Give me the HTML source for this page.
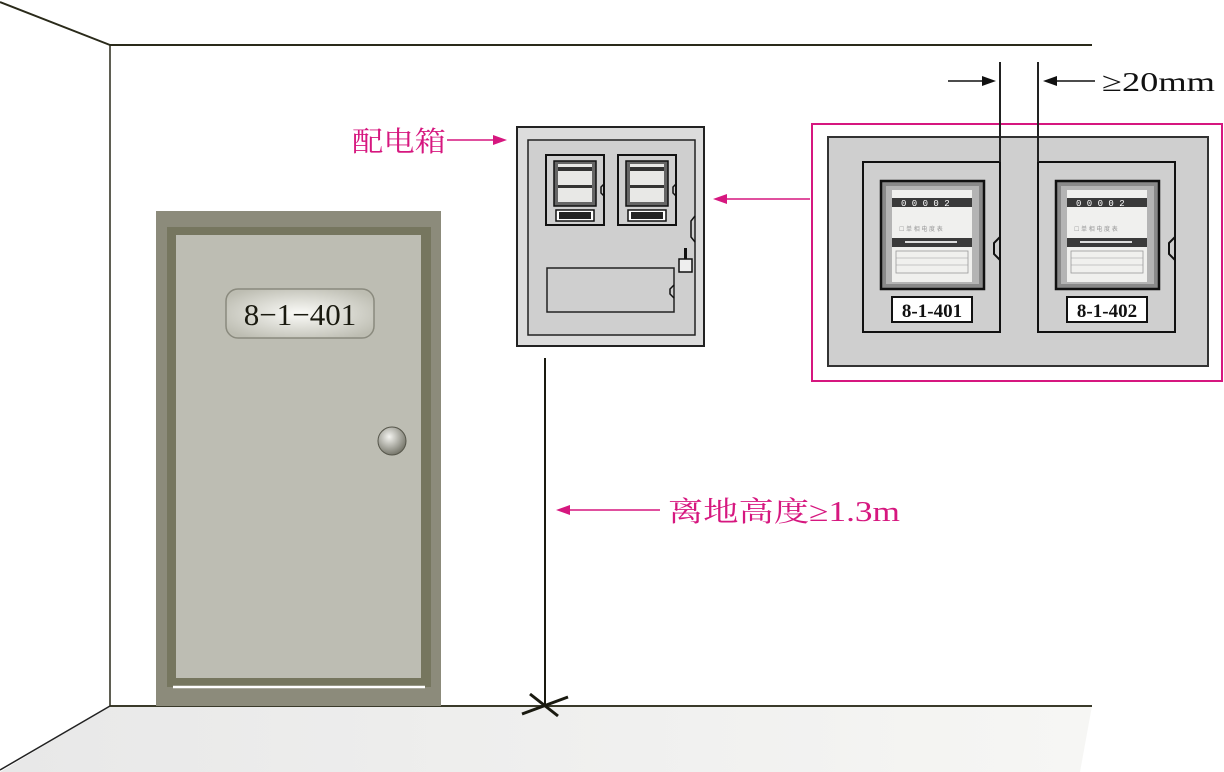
<!DOCTYPE html>
<html><head><meta charset="utf-8"><style>
html,body{margin:0;padding:0;background:#fff;width:1224px;height:772px;overflow:hidden}
svg{display:block}
</style></head><body>
<svg width="1224" height="772" viewBox="0 0 1224 772" xmlns="http://www.w3.org/2000/svg">
<defs>
<linearGradient id="floor" x1="0" x2="1" y1="0" y2="0"><stop offset="0" stop-color="#e8e8e8"/><stop offset="1" stop-color="#f6f6f4"/></linearGradient>
<radialGradient id="plate" cx="0.5" cy="0.5" r="0.6"><stop offset="0" stop-color="#fbfbf8"/><stop offset="1" stop-color="#bdbdb2"/></radialGradient>
<radialGradient id="knob" cx="0.4" cy="0.35" r="0.7"><stop offset="0" stop-color="#f4f4f0"/><stop offset="1" stop-color="#6e6e62"/></radialGradient>
<g id="meter">
 <rect x="0" y="0" width="103" height="108" fill="#8a8a8a" stroke="#111" stroke-width="2.5"/>
 <rect x="5" y="5" width="93" height="98" fill="#b4b4b4"/>
 <rect x="11" y="9" width="80" height="92" fill="#f0f0ee"/>
 <rect x="11" y="17" width="80" height="9" fill="#3a3a3a"/>
 <text x="20" y="25" font-family="Liberation Mono,monospace" font-size="9" fill="#fff">0 0 0 0 2</text>
 <rect x="11" y="57" width="80" height="9" fill="#3a3a3a"/>
 <rect x="24" y="60" width="52" height="2" fill="#ddd"/>
 <rect x="15" y="70" width="72" height="22" fill="none" stroke="#999" stroke-width="0.8"/>
 <line x1="15" y1="77" x2="87" y2="77" stroke="#999" stroke-width="0.6"/>
 <line x1="15" y1="84" x2="87" y2="84" stroke="#999" stroke-width="0.6"/>
 <text x="18" y="50" font-family="Liberation Sans,sans-serif" font-size="6" fill="#999">☐ 单 相 电 度 表</text>
</g>
<g id="smeter">
 <rect x="0" y="0" width="58" height="70" fill="#d0d0d0" stroke="#111" stroke-width="2"/>
 <rect x="8" y="6" width="42" height="45" fill="#666" stroke="#111" stroke-width="1.5"/>
 <rect x="12" y="9" width="34" height="38" fill="#e8e8e6"/>
 <rect x="12" y="12" width="34" height="4" fill="#333"/>
 <rect x="12" y="30" width="34" height="3" fill="#333"/>
 <rect x="10" y="55" width="38" height="11" fill="#fff" stroke="#111" stroke-width="1.5"/>
 <rect x="13" y="57" width="32" height="7" fill="#222"/>
 <path d="M58 29 l-3 3 v6 l3 3" fill="none" stroke="#111" stroke-width="1.5"/>
</g>
</defs>

<polygon points="110,706 1092,706 1080,772 0,772" fill="url(#floor)"/>
<line x1="110" y1="706" x2="0" y2="770" stroke="#222" stroke-width="1.5"/>
<line x1="110" y1="706" x2="1092" y2="706" stroke="#3a3a2a" stroke-width="2"/>
<line x1="0" y1="2" x2="110" y2="45" stroke="#2a2a1a" stroke-width="2"/>
<line x1="110" y1="45" x2="1092" y2="45" stroke="#2a2a1a" stroke-width="2"/>
<line x1="110" y1="45" x2="110" y2="706" stroke="#2a2a1a" stroke-width="1.5"/>

<rect x="156" y="211" width="285" height="495" fill="#8c8b7b"/>
<rect x="167" y="227" width="264" height="460" fill="#76765f"/>
<rect x="176" y="235" width="245" height="443" fill="#bdbdb3"/>
<line x1="173" y1="687" x2="425" y2="687" stroke="#fff" stroke-width="2.5"/>
<rect x="226" y="289" width="148" height="49" rx="12" fill="url(#plate)" stroke="#8a8a7e" stroke-width="1.5"/>
<text x="300" y="325" text-anchor="middle" font-family="Liberation Serif,serif" font-size="31" fill="#1a1a10">8−1−401</text>
<circle cx="392" cy="441" r="14" fill="url(#knob)" stroke="#55554a" stroke-width="1"/>

<rect x="517" y="127" width="187" height="219" fill="#dcdcdc" stroke="#222" stroke-width="2"/>
<rect x="528" y="140" width="167" height="195" fill="#cfcfcf" stroke="#222" stroke-width="1.5"/>
<use href="#smeter" x="546" y="155"/>
<use href="#smeter" x="618" y="155"/>
<rect x="547" y="268" width="127" height="44" fill="#cfcfcf" stroke="#222" stroke-width="1.5"/>
<path d="M674 285 l-4 4 v5 l4 4" fill="none" stroke="#111" stroke-width="1.5"/>
<path d="M695 216 l-4 5 v16 l4 5" fill="none" stroke="#111" stroke-width="1.5"/>
<rect x="679" y="259" width="13" height="13" fill="#eee" stroke="#111" stroke-width="1.5"/>
<rect x="684" y="248" width="3" height="11" fill="#111"/>

<line x1="545" y1="358" x2="545" y2="706" stroke="#1a1a10" stroke-width="2"/>
<line x1="522" y1="714" x2="568" y2="697" stroke="#1a1a10" stroke-width="3"/>
<line x1="530" y1="694" x2="558" y2="716" stroke="#1a1a10" stroke-width="3"/>

<g fill="#d6177f" stroke="#d6177f">
<text x="352" y="151" stroke="none" font-family="Liberation Serif,'Noto Serif CJK SC',serif" font-size="28" textLength="94" lengthAdjust="spacingAndGlyphs">配电箱</text>
<line x1="447" y1="140" x2="495" y2="140" stroke-width="1.5"/>
<polygon points="507,140 493,135 493,145" stroke="none"/>
<line x1="725" y1="199" x2="810" y2="199" stroke-width="1.5"/>
<polygon points="713,199 727,194 727,204" stroke="none"/>
<line x1="568" y1="510" x2="660" y2="510" stroke-width="1.5"/>
<polygon points="556,510 570,505 570,515" stroke="none"/>
<text x="668" y="521" stroke="none" font-family="Liberation Serif,'Noto Serif CJK SC',serif" font-size="28" textLength="232" lengthAdjust="spacingAndGlyphs">离地高度≥1.3m</text>
<rect x="812" y="124" width="410" height="257" fill="none" stroke-width="2"/>
</g>

<rect x="828" y="137" width="380" height="229" fill="#cfcfcf" stroke="#333" stroke-width="2"/>
<rect x="863" y="162" width="137" height="170" fill="#cfcfcf" stroke="#111" stroke-width="2"/>
<rect x="1038" y="162" width="137" height="170" fill="#cfcfcf" stroke="#111" stroke-width="2"/>
<use href="#meter" x="881" y="181"/>
<use href="#meter" x="1056" y="181"/>
<path d="M1000 237 l-6 6 v11 l6 6" fill="none" stroke="#111" stroke-width="2"/>
<path d="M1175 237 l-6 6 v11 l6 6" fill="none" stroke="#111" stroke-width="2"/>
<rect x="892" y="297" width="80" height="25" fill="#fff" stroke="#111" stroke-width="2"/>
<rect x="1067" y="297" width="80" height="25" fill="#fff" stroke="#111" stroke-width="2"/>
<text x="932" y="317" text-anchor="middle" font-family="Liberation Serif,serif" font-weight="bold" font-size="19" fill="#111">8-1-401</text>
<text x="1107" y="317" text-anchor="middle" font-family="Liberation Serif,serif" font-weight="bold" font-size="19" fill="#111">8-1-402</text>
<line x1="1000" y1="62" x2="1000" y2="162" stroke="#222" stroke-width="2"/>
<line x1="1038" y1="62" x2="1038" y2="162" stroke="#222" stroke-width="2"/>
<line x1="948" y1="81" x2="984" y2="81" stroke="#111" stroke-width="1.5"/>
<polygon points="996,81 982,76 982,86" fill="#111"/>
<line x1="1055" y1="81" x2="1095" y2="81" stroke="#111" stroke-width="1.5"/>
<polygon points="1043,81 1057,76 1057,86" fill="#111"/>
<text x="1102" y="91" font-family="Liberation Serif,serif" font-size="27" fill="#111" textLength="113" lengthAdjust="spacingAndGlyphs">≥20mm</text>
</svg>
</body></html>
